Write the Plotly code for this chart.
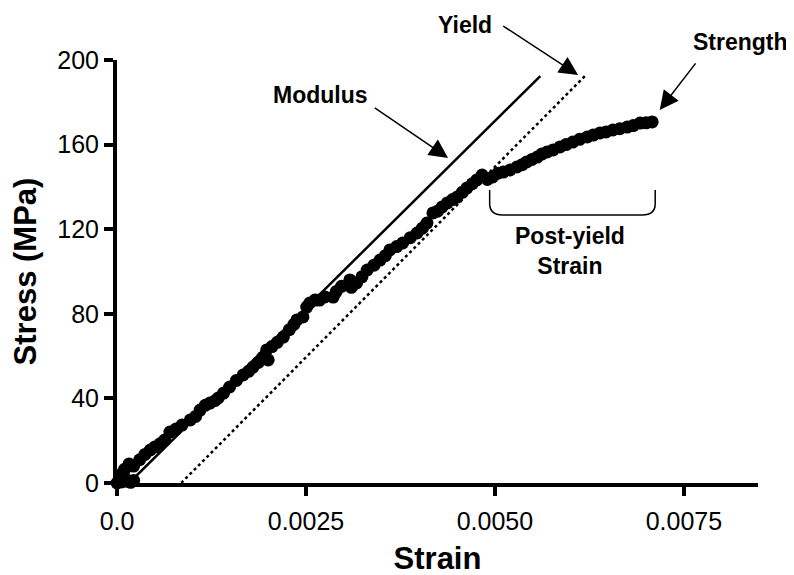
#!/usr/bin/env python3

import plotly.graph_objects as go

# ============================================================
# DATA
# ============================================================

strain = [
    0.00000, 0.00003, 0.00006, 0.00010, 0.00014, 0.00018, 0.00022, 0.00005, 0.00010, 0.00016, 0.00022,
    0.00030, 0.00037, 0.00044, 0.00050, 0.00057, 0.00063, 0.00070, 0.00078, 0.00086, 0.00097,
    0.00104, 0.00110, 0.00117, 0.00123, 0.00130, 0.00134, 0.00141, 0.00149, 0.00158, 0.00167,
    0.00174, 0.00180, 0.00187, 0.00193, 0.00198, 0.00200, 0.00205, 0.00212, 0.00220, 0.00228,
    0.00234, 0.00238, 0.00246, 0.00251, 0.00255, 0.00262, 0.00268, 0.00275, 0.00286, 0.00290,
    0.00297, 0.00308, 0.00310, 0.00317, 0.00324, 0.00331, 0.00340, 0.00348, 0.00355, 0.00361,
    0.00370, 0.00378, 0.00388, 0.00397, 0.00404, 0.00410, 0.00418, 0.00424, 0.00430, 0.00437,
    0.00444, 0.00450, 0.00457, 0.00463, 0.00470, 0.00476, 0.00483, 0.00490, 0.00497, 0.00504,
    0.00511, 0.00520, 0.00529, 0.00536, 0.00542, 0.00549, 0.00556, 0.00562, 0.00569, 0.00577,
    0.00586, 0.00594, 0.00603, 0.00612, 0.00622, 0.00630, 0.00639, 0.00647, 0.00656, 0.00665,
    0.00675, 0.00683, 0.00692, 0.00700, 0.00708,
]
stress = [
    0.0, 1.5, 0.5, 2.5, 0.8, 0.3, 1.2, 4.0, 6.5, 9.0, 8.0,
    11.0, 13.5, 15.6, 17.0, 18.5, 20.3, 24.1, 25.5, 27.4, 29.8,
    31.5, 34.5, 36.8, 37.8, 39.0, 40.2, 42.5, 45.4, 48.5, 51.1,
    52.8, 54.8, 57.0, 59.5, 62.9, 58.2, 64.5, 66.5, 69.0, 72.5,
    75.0, 77.1, 78.5, 83.2, 85.1, 86.5, 86.5, 88.0, 87.9, 90.5,
    93.0, 96.0, 92.5, 94.6, 97.5, 100.7, 103.0, 105.4, 107.5, 110.2,
    111.8, 113.5, 116.0, 118.2, 120.5, 122.9, 127.7, 128.5, 130.5, 132.4,
    134.0, 135.2, 137.5, 139.5, 141.5, 143.3, 145.6, 143.5, 144.7, 146.5,
    147.0, 148.0, 149.4, 150.5, 151.8, 153.0, 154.1, 155.5, 156.5, 157.5,
    158.9, 160.0, 161.2, 162.5, 163.6, 164.5, 165.5, 166.0, 166.9, 167.5,
    168.3, 169.0, 170.2, 170.3, 170.7,
]

# modulus line and offset (yield) line end points
modulus_x = [0.00016, 0.00560]
modulus_y = [0.0, 192.4]
offset_x = [0.00085, 0.00619]
offset_y = [0.0, 192.4]

x_ticks = [0.0, 0.0025, 0.005, 0.0075]
x_tick_text = ["0.0", "0.0025", "0.0050", "0.0075"]
y_ticks = [0, 40, 80, 120, 160, 200]

FONT = "Liberation Sans, Arial, sans-serif"

# ============================================================
# FIGURE
# ============================================================

fig = go.Figure()

fig.add_trace(go.Scatter(
    x=modulus_x, y=modulus_y, mode="lines",
    line=dict(color="black", width=2.5),
    hoverinfo="skip", showlegend=False
))
fig.add_trace(go.Scatter(
    x=offset_x, y=offset_y, mode="lines",
    line=dict(color="black", width=2.5, dash="dot"),
    hoverinfo="skip", showlegend=False
))
fig.add_trace(go.Scatter(
    x=strain, y=stress, mode="markers",
    marker=dict(color="black", size=13),
    cliponaxis=False, showlegend=False
))

# bracket under the post-yield part
fig.add_shape(
    type="path", xref="x", yref="y",
    path=("M 0.00493,138.5 L 0.00493,132 Q 0.00493,126.7 0.00510,126.7 "
          "L 0.00695,126.7 Q 0.00712,126.7 0.00712,132 L 0.00712,138.5"),
    line=dict(color="black", width=1.5)
)

label_font = dict(family=FONT, size=23, color="black")

def text_note(x, y, text, ref="data"):
    xr, yr = ("x", "y") if ref == "data" else ("paper", "paper")
    fig.add_annotation(x=x, y=y, xref=xr, yref=yr, text=f"<b>{text}</b>",
                       xanchor="center", yanchor="middle",
                       showarrow=False, font=label_font)

def arrow(tip_x, tip_y, tail_x, tail_y):
    fig.add_annotation(x=tip_x, y=tip_y, ax=tail_x, ay=tail_y,
                       xref="x", yref="y", axref="x", ayref="y",
                       text="", showarrow=True, arrowhead=2, arrowsize=2.5,
                       arrowwidth=1.5, arrowcolor="black", standoff=0)

text_note(0.00269, 183.5, "Modulus")
arrow(0.00438, 153.7, 0.00339, 177.8)

text_note(0.543, 1.083, "Yield", ref="paper")
arrow(0.00610, 192.9, 0.00509, 216.5)

text_note(0.972, 1.043, "Strength", ref="paper")
arrow(0.00718, 176.4, 0.00767, 199.1)

text_note(0.00599, 109.7, "Post-yield<br>Strain")

# ============================================================
# LAYOUT
# ============================================================

axis_common = dict(
    showline=True, linecolor="black", linewidth=4,
    ticks="outside", ticklen=9, tickwidth=4, tickcolor="black",
    showgrid=False, zeroline=False, automargin=False,
    tickfont=dict(family=FONT, size=25, color="black"),
)

# the page body has an 8 px margin, so the plot box is shifted by -8 px
fig.update_layout(
    width=794, height=575,
    paper_bgcolor="white", plot_bgcolor="white",
    margin=dict(l=109, r=44, t=52, b=100),
    xaxis=dict(
        range=[0, 0.00848], tickvals=x_ticks, ticktext=x_tick_text,
        ticklabelstandoff=4,
        title=dict(text="<b>Strain</b>", font=dict(family=FONT, size=31, color="black"),
                   standoff=14),
        **axis_common
    ),
    yaxis=dict(
        range=[0, 200], tickvals=y_ticks,
        title=dict(text="<b>Stress (MPa)</b>", font=dict(family=FONT, size=31, color="black"),
                   standoff=20),
        **axis_common
    ),
)

fig.write_html("out.html")
